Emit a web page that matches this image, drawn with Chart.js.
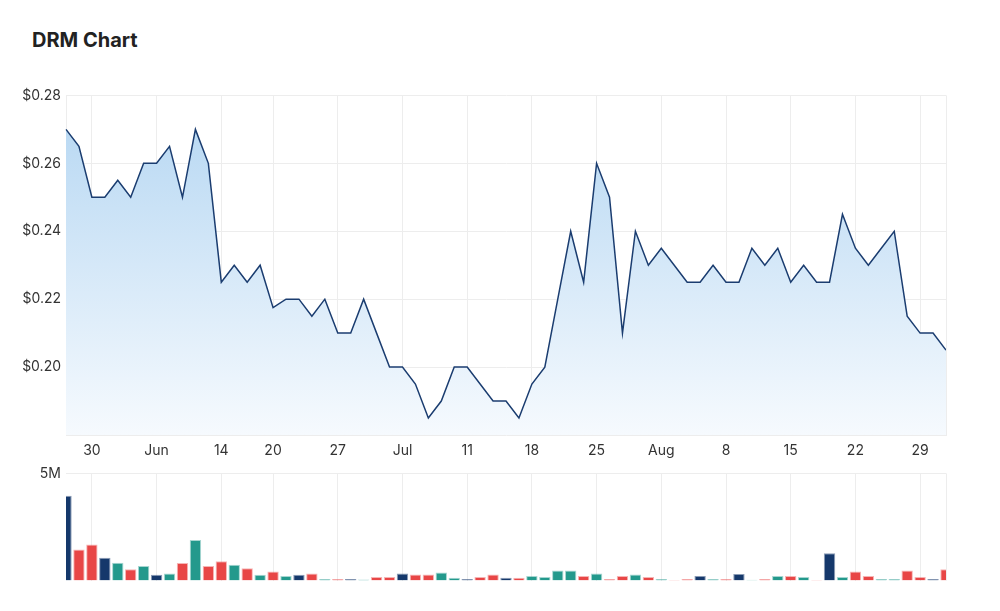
<!DOCTYPE html>
<html lang="en">
<head>
  <meta charset="UTF-8" />
  <title>DRM Chart</title>
  <script src="https://cdn.jsdelivr.net/npm/chart.js"></script>
  <style>
    body { margin: 0; background: #fff; font-family: Inter, "Noto Sans", sans-serif; }
    h2 { position: absolute; left: 32px; top: 28px; margin: 0; font-size: 20px; font-weight: 700; color: #222; }
    .box { position: absolute; left: 0; width: 960px; }
    #priceBox { top: 82px; height: 383px; }
    #volBox { top: 460px; height: 134px; }
  </style>
</head>
<body>
  <h2>DRM Chart</h2>
  <div class="box" id="priceBox"><canvas id="priceChart"></canvas></div>
  <div class="box" id="volBox"><canvas id="volChart"></canvas></div>

  <script>
    // trading days, 26 May - 31 Aug 2022
    const dates = [
      '05-26','05-27','05-30','05-31',
      '06-01','06-02','06-03','06-06','06-07','06-08','06-09','06-10',
      '06-14','06-15','06-16','06-17','06-20','06-21','06-22','06-23','06-24',
      '06-27','06-28','06-29','06-30',
      '07-01','07-04','07-05','07-06','07-07','07-08','07-11','07-12','07-13','07-14','07-15',
      '07-18','07-19','07-20','07-21','07-22','07-25','07-26','07-27','07-28','07-29',
      '08-01','08-02','08-03','08-04','08-05','08-08','08-09','08-10','08-11','08-12',
      '08-15','08-16','08-17','08-18','08-19','08-22','08-23','08-24','08-25','08-26',
      '08-29','08-30','08-31'
    ];
    const prices = [
      0.27, 0.265, 0.25, 0.25, 0.255, 0.25, 0.26, 0.26, 0.265, 0.25,
      0.27, 0.26, 0.225, 0.23, 0.225, 0.23, 0.2175, 0.22, 0.22, 0.215,
      0.22, 0.21, 0.21, 0.22, 0.21, 0.20, 0.20, 0.195, 0.185, 0.19,
      0.20, 0.20, 0.195, 0.19, 0.19, 0.185, 0.195, 0.20, 0.22, 0.24,
      0.225, 0.26, 0.25, 0.21, 0.24, 0.23, 0.235, 0.23, 0.225, 0.225,
      0.23, 0.225, 0.225, 0.235, 0.23, 0.235, 0.225, 0.23, 0.225, 0.225,
      0.245, 0.235, 0.23, 0.235, 0.24, 0.215, 0.21, 0.21, 0.205
    ];
    // volume in millions
    const volumes = [
      3.96, 1.45, 1.68, 1.07, 0.83, 0.53, 0.68, 0.27, 0.33, 0.82,
      1.89, 0.68, 0.90, 0.74, 0.58, 0.27, 0.42, 0.22, 0.27, 0.33,
      0.08, 0.08, 0.08, 0.05, 0.17, 0.17, 0.33, 0.28, 0.28, 0.38,
      0.13, 0.08, 0.17, 0.28, 0.13, 0.13, 0.22, 0.17, 0.47, 0.47,
      0.22, 0.33, 0.08, 0.22, 0.28, 0.17, 0.08, 0.03, 0.07, 0.22,
      0.08, 0.08, 0.31, 0.04, 0.08, 0.22, 0.22, 0.17, 0.03, 1.27,
      0.17, 0.42, 0.22, 0.08, 0.08, 0.47, 0.17, 0.08, 0.53
    ];
    const tickDates = ['05-30','06-06','06-14','06-20','06-27','07-04','07-11','07-18','07-25','08-01','08-08','08-15','08-22','08-29'];
    const tickLabels = ['30','Jun','14','20','27','Jul','11','18','25','Aug','8','15','22','29'];
    const priceTicks = [0.20, 0.22, 0.24, 0.26, 0.28];

    const gridCol = '#ededed';
    const tickIdx = tickDates.map(d => dates.indexOf(d));
    const keepTicks = axis => { axis.ticks = axis.ticks.filter(t => tickIdx.includes(t.value)); };

    const navy = '#15386b', red = '#e84646', teal = '#23998c';
    const barColors = prices.map((p, i) => i === 0 || p === prices[i - 1] ? navy : (p > prices[i - 1] ? teal : red));
    const barBorders = barColors.map(c => c === navy ? 'rgba(21,56,107,0.5)' : (c === teal ? 'rgba(35,153,140,0.4)' : 'rgba(232,70,70,0.4)'));

    const rightEdge = {
      id: 'rightEdge',
      afterDraw(chart) {
        const { ctx, chartArea: a } = chart;
        ctx.save();
        ctx.strokeStyle = gridCol;
        ctx.lineWidth = 1;
        ctx.beginPath();
        ctx.moveTo(a.right + 0.5, a.top);
        ctx.lineTo(a.right + 0.5, a.bottom);
        ctx.stroke();
        ctx.restore();
      }
    };

    Chart.defaults.font.family = 'Inter, "Noto Sans", sans-serif';
    Chart.defaults.font.size = 14;
    Chart.defaults.color = '#333';

    new Chart(document.getElementById('priceChart'), {
      type: 'line',
      data: {
        labels: dates,
        datasets: [{
          data: prices,
          borderColor: '#1b3d70',
          borderWidth: 1.5,
          pointRadius: 0,
          tension: 0,
          fill: 'start',
          backgroundColor: (c) => {
            const a = c.chart.chartArea;
            if (!a) return 'rgba(190,220,243,0.8)';
            const g = c.chart.ctx.createLinearGradient(0, a.top, 0, a.bottom);
            g.addColorStop(0, 'rgba(180,214,242,1)');
            g.addColorStop(1, 'rgba(246,250,254,1)');
            return g;
          }
        }]
      },
      options: {
        responsive: true,
        maintainAspectRatio: false,
        animation: false,
        layout: { padding: { top: 7, right: 14, left: 0, bottom: 0 } },
        plugins: { legend: { display: false }, tooltip: { enabled: false } },
        scales: {
          x: {
            afterBuildTicks: keepTicks,
            afterFit: s => { s.height = 30; },
            ticks: {
              autoSkip: false, maxRotation: 0, padding: 7,
              callback: v => tickLabels[tickIdx.indexOf(v)]
            },
            grid: { color: gridCol, drawTicks: false },
            border: { color: gridCol }
          },
          y: {
            min: 0.18, max: 0.28,
            afterBuildTicks: axis => { axis.ticks = priceTicks.map(v => ({ value: v })); },
            afterFit: s => { s.width = 66; },
            ticks: { padding: 5, callback: v => '$' + v.toFixed(2) },
            grid: { color: gridCol, drawTicks: false },
            border: { color: gridCol }
          }
        }
      },
      plugins: [rightEdge]
    });

    new Chart(document.getElementById('volChart'), {
      type: 'bar',
      data: {
        labels: dates,
        datasets: [{
          data: volumes,
          backgroundColor: barColors,
          borderColor: barBorders,
          borderWidth: 1,
          barPercentage: 0.88,
          categoryPercentage: 1
        }]
      },
      options: {
        responsive: true,
        maintainAspectRatio: false,
        animation: false,
        layout: { padding: { top: 13, right: 14, left: 0, bottom: 0 } },
        plugins: { legend: { display: false }, tooltip: { enabled: false } },
        scales: {
          x: {
            offset: false,
            afterBuildTicks: keepTicks,
            afterFit: s => { s.height = 5; },
            ticks: { display: false, autoSkip: false },
            grid: { color: gridCol, drawTicks: false, offset: false },
            border: { display: false }
          },
          y: {
            min: 0, max: 5,
            afterBuildTicks: axis => { axis.ticks = [{ value: 5 }]; },
            afterFit: s => { s.width = 66; },
            ticks: { padding: 5, callback: v => v + 'M' },
            grid: { color: gridCol, drawTicks: false },
            border: { display: false }
          }
        }
      },
      plugins: [rightEdge]
    });
  </script>
</body>
</html>
